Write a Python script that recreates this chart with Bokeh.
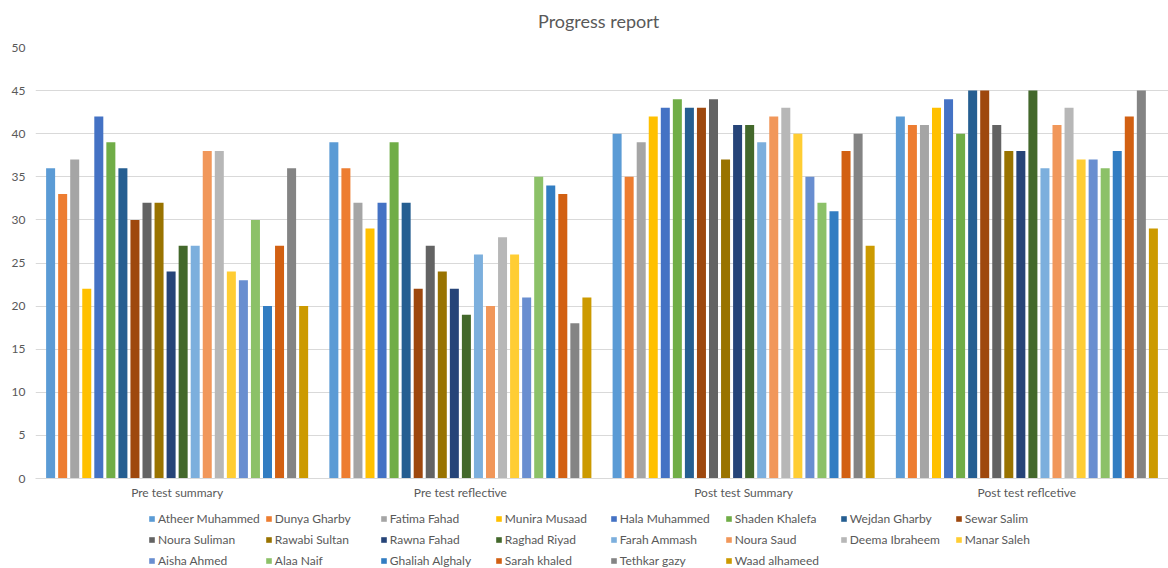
from bokeh.plotting import figure
from bokeh.layouts import column
from bokeh.models import ColumnDataSource, Legend, LegendItem, FactorRange, Label
from bokeh.transform import dodge
from bokeh.embed import file_html
from bokeh.resources import INLINE

title_text = "Progress report"

categories = ["Pre test summary", "Pre test reflective", "Post test Summary", "Post test reflcetive"]

students = ["Atheer Muhammed", "Dunya Gharby", "Fatima Fahad", "Munira Musaad",
            "Hala Muhammed", "Shaden Khalefa", "Wejdan Gharby", "Sewar Salim",
            "Noura Suliman", "Rawabi Sultan", "Rawna Fahad", "Raghad Riyad",
            "Farah Ammash", "Noura Saud", "Deema Ibraheem", "Manar Saleh",
            "Aisha Ahmed", "Alaa Naif", "Ghaliah Alghaly", "Sarah khaled",
            "Tethkar gazy", "Waad alhameed"]

pre_test_summary = [36, 33, 37, 22, 42, 39, 36, 30, 32, 32, 24, 27, 27, 38, 38, 24, 23, 30, 20, 27, 36, 20]
pre_test_reflective = [39, 36, 32, 29, 32, 39, 32, 22, 27, 24, 22, 19, 26, 20, 28, 26, 21, 35, 34, 33, 18, 21]
post_test_summary = [40, 35, 39, 42, 43, 44, 43, 43, 44, 37, 41, 41, 39, 42, 43, 40, 35, 32, 31, 38, 40, 27]
post_test_reflective = [42, 41, 41, 43, 44, 40, 45, 45, 41, 38, 38, 45, 36, 41, 43, 37, 37, 36, 38, 42, 45, 29]

y_ticks = [0, 5, 10, 15, 20, 25, 30, 35, 40, 45, 50]

colors = ["#5B9BD5", "#ED7D31", "#A5A5A5", "#FFC000", "#4472C4", "#70AD47",
          "#255E91", "#9E480E", "#636363", "#997300", "#264478", "#43682B",
          "#7CAFDD", "#F1975A", "#B7B7B7", "#FFCD33", "#698ED0", "#8CC168",
          "#327DC2", "#D26012", "#848484", "#CC9A00"]

FONT = "Lato"
TEXT_COLOR = "#595959"

tests = [pre_test_summary, pre_test_reflective, post_test_summary, post_test_reflective]
data = {"cat": categories}
for i in range(len(students)):
    data[f"s{i}"] = [t[i] for t in tests]
source = ColumnDataSource(data)

# Title strip
tf = figure(width=1168, height=40, output_backend="svg", toolbar_location=None,
            x_axis_type=None, y_axis_type=None, x_range=(0, 1), y_range=(0, 1),
            min_border=0, outline_line_color=None)
tf.grid.visible = False
tf.add_layout(Label(x=0.497, y=0.5, text=title_text, text_align="center",
                    text_baseline="middle", text_font=FONT, text_font_size="18px",
                    text_color=TEXT_COLOR))

# Main chart
p = figure(x_range=FactorRange(*categories), y_range=(0, 50),
           width=1168, height=462, output_backend="svg", toolbar_location=None,
           min_border_left=35, min_border_right=0, min_border_top=7,
           min_border_bottom=20)

n = len(students)
step = 0.04254
bar_w = 0.0318
for i, name in enumerate(students):
    off = (i - (n - 1) / 2) * step
    p.vbar(x=dodge("cat", off, range=p.x_range), top=f"s{i}", width=bar_w,
           source=source, fill_color=colors[i], line_color=None)

p.yaxis.ticker = y_ticks
p.yaxis.axis_line_color = None
p.yaxis.major_tick_line_color = None
p.yaxis.minor_tick_line_color = None
p.yaxis.major_tick_out = 0
p.yaxis.minor_tick_out = 0
p.yaxis.major_label_text_font = FONT
p.yaxis.major_label_text_font_size = "12px"
p.yaxis.major_label_text_color = TEXT_COLOR
p.yaxis.major_label_standoff = 10

p.xaxis.axis_line_color = "#D9D9D9"
p.xaxis.major_tick_line_color = None
p.xaxis.minor_tick_line_color = None
p.xaxis.major_tick_out = 0
p.xaxis.minor_tick_out = 0
p.xaxis.major_label_text_font = FONT
p.xaxis.major_label_text_font_size = "12px"
p.xaxis.major_label_text_color = TEXT_COLOR
p.xaxis.major_label_standoff = 6

p.xgrid.grid_line_color = None
p.ygrid.grid_line_color = "#D9D9D9"
p.outline_line_color = None

# Legend strip: separate figure so the legend is not clipped.
# Its proxy bars have zero width and sit outside the visible y range.
lf = figure(width=1168, height=66, output_backend="svg", toolbar_location=None,
            x_axis_type=None, y_axis_type=None,
            x_range=FactorRange(*categories), y_range=(-2, -1),
            min_border=0, outline_line_color=None)
lf.grid.visible = False
items = []
for i, name in enumerate(students):
    r = lf.vbar(x="cat", top=f"s{i}", width=0, source=source,
                fill_color=colors[i], line_color=None)
    items.append(LegendItem(label=name, renderers=[r]))

legend = Legend(items=items, orientation="horizontal", ncols=8,
                location=(113, 0), label_text_font=FONT,
                label_text_font_size="12px", label_text_color=TEXT_COLOR,
                glyph_width=7, glyph_height=7, label_standoff=3,
                label_width=100, label_height=16, spacing=5, padding=0, margin=0,
                border_line_color=None, background_fill_alpha=0)
lf.add_layout(legend, "center")

layout = column(tf, p, lf, spacing=0)
open("out.html", "w").write(file_html(layout, INLINE))
